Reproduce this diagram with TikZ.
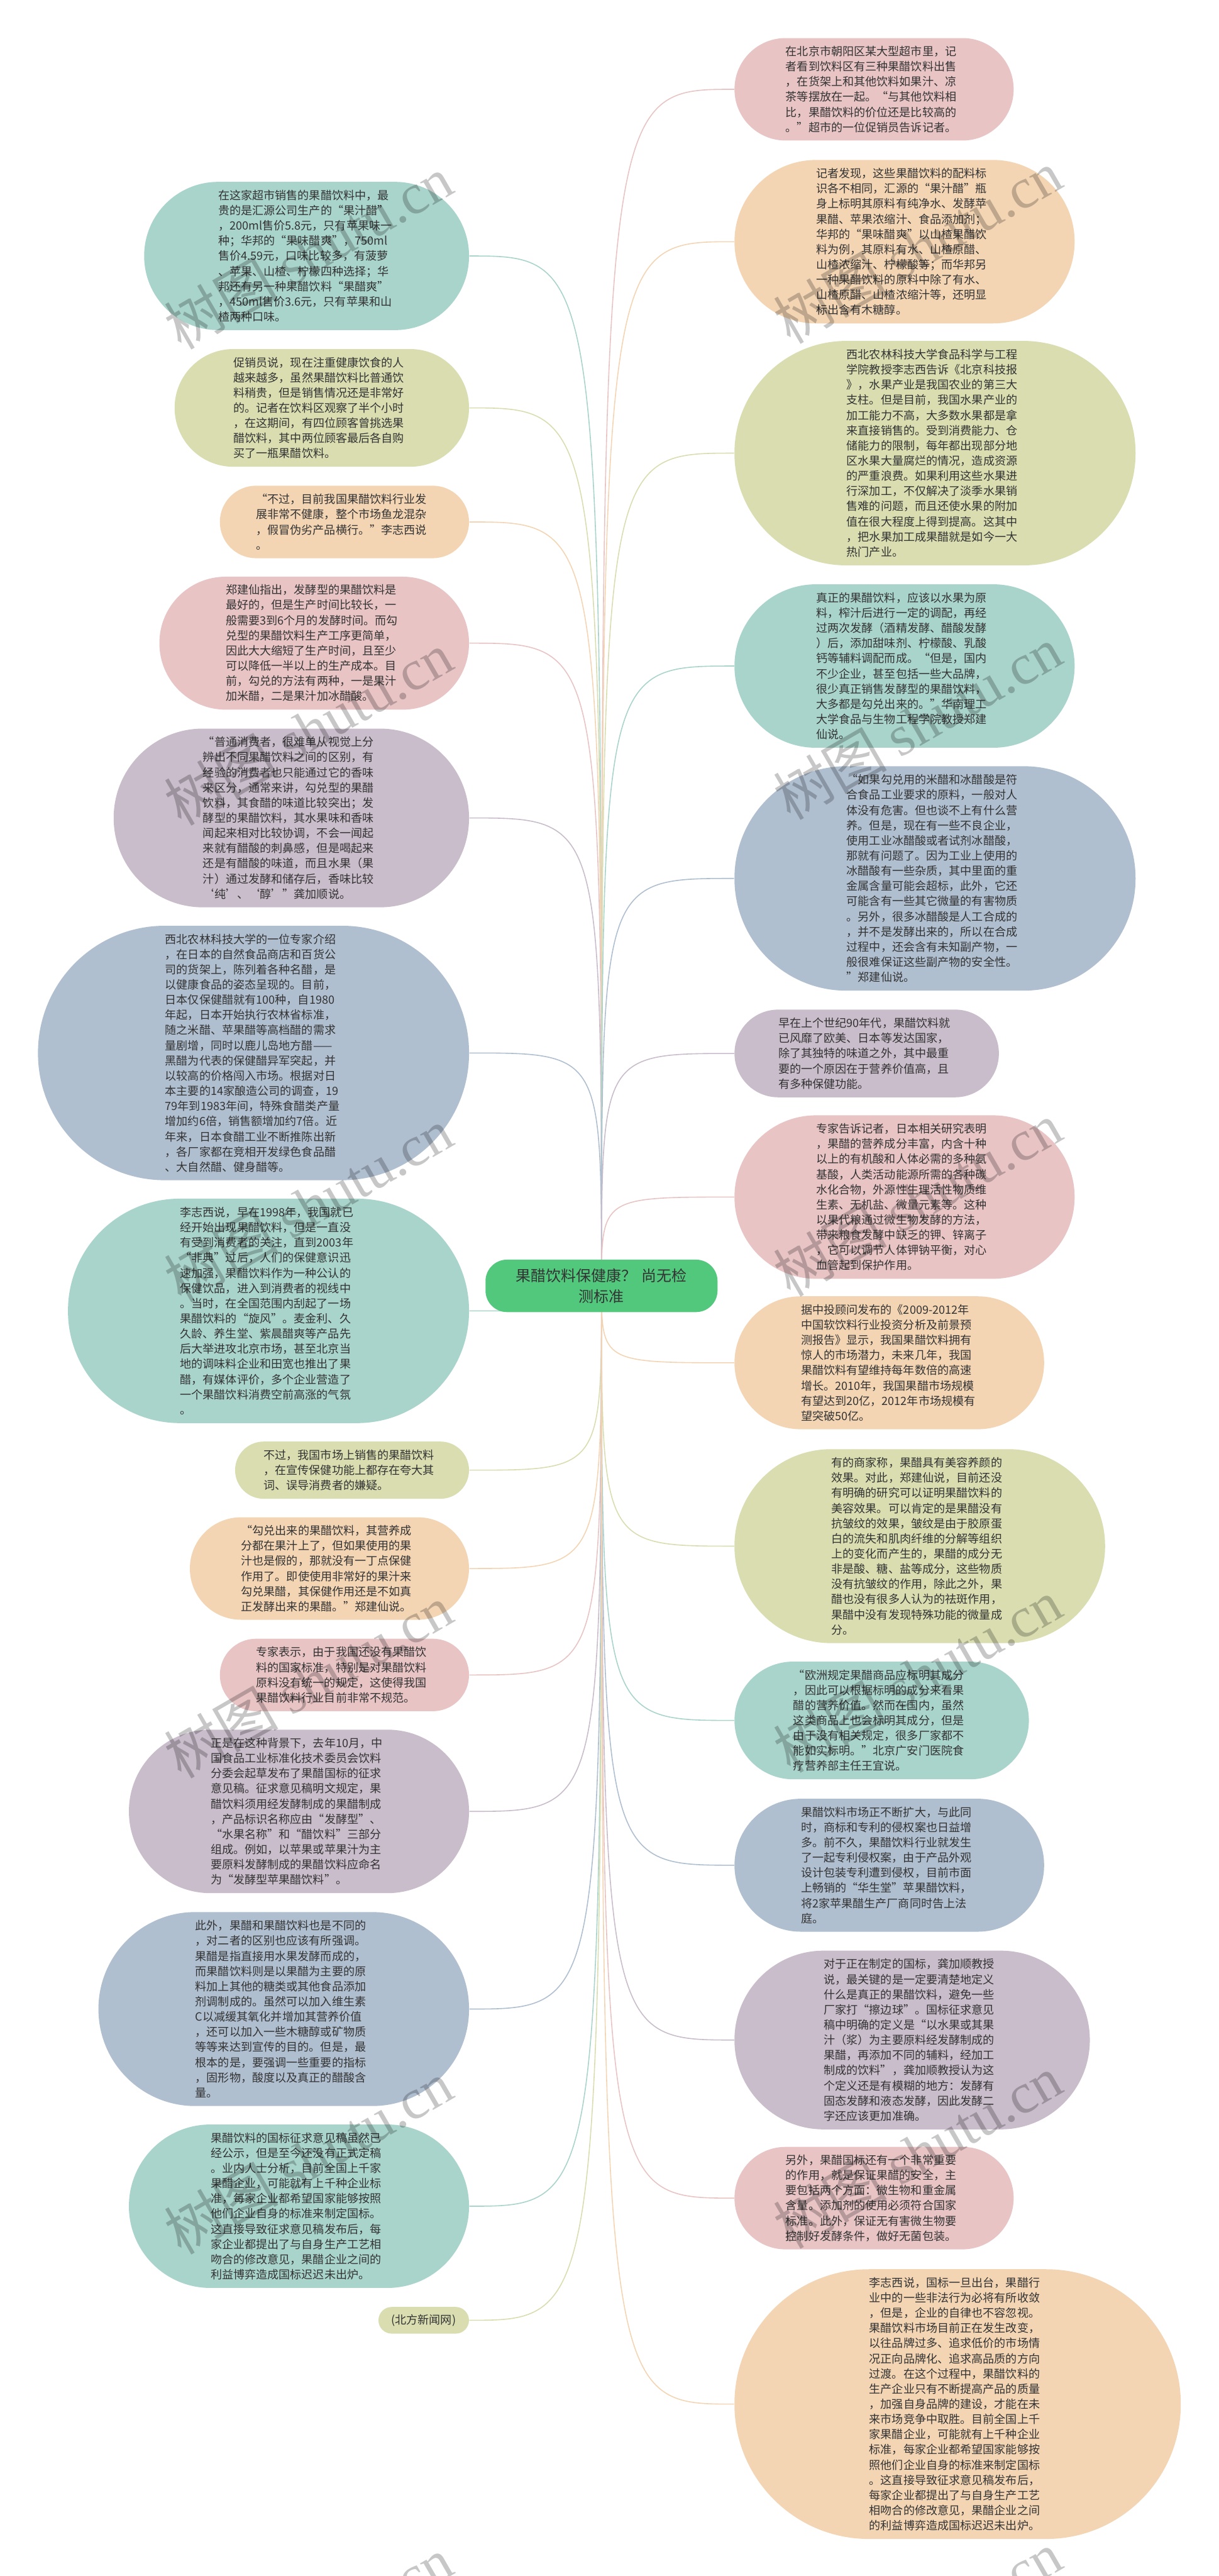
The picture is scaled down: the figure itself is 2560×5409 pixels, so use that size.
\documentclass[tikz,border=0pt]{standalone}
\usepackage{fontspec}
\newfontfamily\cjk{Noto Sans CJK SC}
\newfontfamily\wmlatin{Liberation Serif}
\usetikzlibrary{backgrounds}
\definecolor{cteal}{HTML}{A9D4CB}
\definecolor{colive}{HTML}{D9DDB0}
\definecolor{cpeach}{HTML}{F3D5B4}
\definecolor{cpink}{HTML}{E9C4C5}
\definecolor{cplum}{HTML}{C9BCCB}
\definecolor{csteel}{HTML}{B0BFD0}
\definecolor{chub}{HTML}{52C87D}
\definecolor{ctext}{HTML}{333333}

\begin{document}
\begin{tikzpicture}[x=0.01cm, y=-0.01cm,
		bubble/.style args={#1/#2/#3}{fill=#1, minimum width=#2cm, minimum height=#3cm, rounded corners=0.499*#3cm, inner sep=0pt, text width=3.71cm, align=left, text=ctext, font=\cjk\fontsize{6.8pt}{9.07pt}\selectfont},
		link/.style={draw=#1, line width=0.6pt},
		stamp/.style={font=\cjk\fontsize{34pt}{34pt}\selectfont, text=black, text opacity=0.22, rotate=30, inner sep=0pt}]
	\useasboundingbox (0,0) rectangle (2560,5409);

	\node[fill=chub, minimum width=4.87cm, minimum height=1.10cm, rounded corners=0.45cm, inner sep=0pt, text width=3.8cm, align=center, text=ctext, font=\cjk\fontsize{9pt}{12.2pt}\selectfont] (hub) at (1263.5,2700) {果醋饮料保健康？ 尚无检\\测标准};

	% left column
	\node[bubble=cteal/6.82/3.11] (l1) at (644,537.5) {在这家超市销售的果醋饮料中，最\\贵的是汇源公司生产的“果汁醋”\\，200ml售价5.8元，只有苹果味一\\种；华邦的“果味醋爽”，750ml\\售价4.59元，口味比较多，有菠萝\\、苹果、山楂、柠檬四种选择；华\\邦还有另一种果醋饮料“果醋爽”\\，450ml售价3.6元，只有苹果和山\\楂两种口味。};
	\node[bubble=colive/6.18/2.47] (l2) at (676,856.5) {促销员说，现在注重健康饮食的人\\越来越多，虽然果醋饮料比普通饮\\料稍贵，但是销售情况还是非常好\\的。记者在饮料区观察了半个小时\\，在这期间，有四位顾客曾挑选果\\醋饮料，其中两位顾客最后各自购\\买了一瓶果醋饮料。};
	\node[bubble=cpeach/5.23/1.52] (l3) at (723.5,1096) {“不过，目前我国果醋饮料行业发\\展非常不健康，整个市场鱼龙混杂\\，假冒伪劣产品横行。”李志西说\\。};
	\node[bubble=cpink/6.50/2.79] (l4) at (660,1350.5) {郑建仙指出，发酵型的果醋饮料是\\最好的，但是生产时间比较长，一\\般需要3到6个月的发酵时间。而勾\\兑型的果醋饮料生产工序更简单，\\因此大大缩短了生产时间，且至少\\可以降低一半以上的生产成本。目\\前，勾兑的方法有两种，一是果汁\\加米醋，二是果汁加冰醋酸。};
	\node[bubble=cplum/7.46/3.75] (l5) at (612,1717.5) {“普通消费者，很难单从视觉上分\\辨出不同果醋饮料之间的区别，有\\经验的消费者也只能通过它的香味\\来区分，通常来讲，勾兑型的果醋\\饮料，其食醋的味道比较突出；发\\酵型的果醋饮料，其水果味和香味\\闻起来相对比较协调，不会一闻起\\来就有醋酸的刺鼻感，但是喝起来\\还是有醋酸的味道，而且水果（果\\汁）通过发酵和储存后，香味比较\\‘纯’、‘醇’”龚加顺说。};
	\node[bubble=csteel/9.05/5.34] (l6) at (532.5,2211) {西北农林科技大学的一位专家介绍\\，在日本的自然食品商店和百货公\\司的货架上，陈列着各种名醋，是\\以健康食品的姿态呈现的。目前，\\日本仅保健醋就有100种，自1980\\年起，日本开始执行农林省标准，\\随之米醋、苹果醋等高档醋的需求\\量剧增，同时以鹿儿岛地方醋——\\黑醋为代表的保健醋异军突起，并\\以较高的价格闯入市场。根据对日\\本主要的14家酿造公司的调查，19\\79年到1983年间，特殊食醋类产量\\增加约6倍，销售额增加约7倍。近\\年来，日本食醋工业不断推陈出新\\，各厂家都在竞相开发绿色食品醋\\、大自然醋、健身醋等。};
	\node[bubble=cteal/8.42/4.71] (l7) at (564,2752.5) {李志西说，早在1998年，我国就已\\经开始出现果醋饮料，但是一直没\\有受到消费者的关注，直到2003年\\“非典”过后，人们的保健意识迅\\速加强，果醋饮料作为一种公认的\\保健饮品，进入到消费者的视线中\\。当时，在全国范围内刮起了一场\\果醋饮料的“旋风”。麦金利、久\\久龄、养生堂、紫晨醋爽等产品先\\后大举进攻北京市场，甚至北京当\\地的调味料企业和田宽也推出了果\\醋，有媒体评价，多个企业营造了\\一个果醋饮料消费空前高涨的气氛\\。};
	\node[bubble=colive/4.91/1.20] (l8) at (739.5,3087) {不过，我国市场上销售的果醋饮料\\，在宣传保健功能上都存在夸大其\\词、误导消费者的嫌疑。};
	\node[bubble=cpeach/5.86/2.15] (l9) at (692,3293.5) {“勾兑出来的果醋饮料，其营养成\\分都在果汁上了，但如果使用的果\\汁也是假的，那就没有一丁点保健\\作用了。即使使用非常好的果汁来\\勾兑果醋，其保健作用还是不如真\\正发酵出来的果醋。”郑建仙说。};
	\node[bubble=cpink/5.23/1.52] (l10) at (723.5,3517) {专家表示，由于我国还没有果醋饮\\料的国家标准，特别是对果醋饮料\\原料没有统一的规定，这使得我国\\果醋饮料行业目前非常不规范。};
	\node[bubble=cplum/7.14/3.43] (l11) at (628,3803.5) {正是在这种背景下，去年10月，中\\国食品工业标准化技术委员会饮料\\分委会起草发布了果醋国标的征求\\意见稿。征求意见稿明文规定，果\\醋饮料须用经发酵制成的果醋制成\\，产品标识名称应由“发酵型”、\\“水果名称”和“醋饮料”三部分\\组成。例如，以苹果或苹果汁为主\\要原料发酵制成的果醋饮料应命名\\为“发酵型苹果醋饮料”。};
	\node[bubble=csteel/7.78/4.07] (l12) at (596,4218.5) {此外，果醋和果醋饮料也是不同的\\，对二者的区别也应该有所强调。\\果醋是指直接用水果发酵而成的，\\而果醋饮料则是以果醋为主要的原\\料加上其他的糖类或其他食品添加\\剂调制成的。虽然可以加入维生素\\C以减缓其氧化并增加其营养价值\\，还可以加入一些木糖醇或矿物质\\等等来达到宣传的目的。但是，最\\根本的是，要强调一些重要的指标\\，固形物，酸度以及真正的醋酸含\\量。};
	\node[bubble=cteal/7.14/3.43] (l13) at (628,4632.5) {果醋饮料的国标征求意见稿虽然已\\经公示，但是至今还没有正式定稿\\。业内人士分析，目前全国上千家\\果醋企业，可能就有上千种企业标\\准，每家企业都希望国家能够按照\\他们企业自身的标准来制定国标。\\这直接导致征求意见稿发布后，每\\家企业都提出了与自身生产工艺相\\吻合的修改意见，果醋企业之间的\\利益博弈造成国标迟迟未出炉。};
	\node[bubble=colive/1.90/0.56, text width=1.36cm] (l14) at (890,4872) {(北方新闻网)};

	% right column
	\node[bubble=cpink/5.86/2.15] (r1) at (1836,187.5) {在北京市朝阳区某大型超市里，记\\者看到饮料区有三种果醋饮料出售\\，在货架上和其他饮料如果汁、凉\\茶等摆放在一起。“与其他饮料相\\比，果醋饮料的价位还是比较高的\\。”超市的一位促销员告诉记者。};
	\node[bubble=cpeach/7.14/3.43] (r2) at (1900,507.5) {记者发现，这些果醋饮料的配料标\\识各不相同，汇源的“果汁醋”瓶\\身上标明其原料有纯净水、发酵苹\\果醋、苹果浓缩汁、食品添加剂；\\华邦的“果味醋爽”以山楂果醋饮\\料为例，其原料有水、山楂原醋、\\山楂浓缩汁、柠檬酸等；而华邦另\\一种果醋饮料的原料中除了有水、\\山楂原醋、山楂浓缩汁等，还明显\\标出含有木糖醇。};
	\node[bubble=colive/8.42/4.71] (r3) at (1964,951.5) {西北农林科技大学食品科学与工程\\学院教授李志西告诉《北京科技报\\》，水果产业是我国农业的第三大\\支柱。但是目前，我国水果产业的\\加工能力不高，大多数水果都是拿\\来直接销售的。受到消费能力、仓\\储能力的限制，每年都出现部分地\\区水果大量腐烂的情况，造成资源\\的严重浪费。如果利用这些水果进\\行深加工，不仅解决了淡季水果销\\售难的问题，而且还使水果的附加\\值在很大程度上得到提高。这其中\\，把水果加工成果醋就是如今一大\\热门产业。};
	\node[bubble=cteal/7.14/3.43] (r4) at (1900,1398.5) {真正的果醋饮料，应该以水果为原\\料，榨汁后进行一定的调配，再经\\过两次发酵（酒精发酵、醋酸发酵\\）后，添加甜味剂、柠檬酸、乳酸\\钙等辅料调配而成。“但是，国内\\不少企业，甚至包括一些大品牌，\\很少真正销售发酵型的果醋饮料，\\大多都是勾兑出来的。”华南理工\\大学食品与生物工程学院教授郑建\\仙说。};
	\node[bubble=csteel/8.42/4.71] (r5) at (1964,1844.5) {“如果勾兑用的米醋和冰醋酸是符\\合食品工业要求的原料，一般对人\\体没有危害。但也谈不上有什么营\\养。但是，现在有一些不良企业，\\使用工业冰醋酸或者试剂冰醋酸，\\那就有问题了。因为工业上使用的\\冰醋酸有一些杂质，其中里面的重\\金属含量可能会超标，此外，它还\\可能含有一些其它微量的有害物质\\。另外，很多冰醋酸是人工合成的\\，并不是发酵出来的，所以在合成\\过程中，还会含有未知副产物，一\\般很难保证这些副产物的安全性。\\”郑建仙说。};
	\node[bubble=cplum/5.55/1.84] (r6) at (1820.5,2212) {早在上个世纪90年代，果醋饮料就\\已风靡了欧美、日本等发达国家，\\除了其独特的味道之外，其中最重\\要的一个原因在于营养价值高，且\\有多种保健功能。};
	\node[bubble=cpink/7.14/3.43] (r7) at (1900,2513.5) {专家告诉记者，日本相关研究表明\\，果醋的营养成分丰富，内含十种\\以上的有机酸和人体必需的多种氨\\基酸，人类活动能源所需的各种碳\\水化合物，外源性生理活性物质维\\生素、无机盐、微量元素等。这种\\以果代粮通过微生物发酵的方法，\\带来粮食发酵中缺乏的钾、锌离子\\，它可以调节人体钾钠平衡，对心\\血管起到保护作用。};
	\node[bubble=cpeach/6.50/2.79] (r8) at (1868,2861.5) {据中投顾问发布的《2009-2012年\\中国软饮料行业投资分析及前景预\\测报告》显示，我国果醋饮料拥有\\惊人的市场潜力，未来几年，我国\\果醋饮料有望维持每年数倍的高速\\增长。2010年，我国果醋市场规模\\有望达到20亿，2012年市场规模有\\望突破50亿。};
	\node[bubble=colive/7.78/4.07] (r9) at (1932,3246.5) {有的商家称，果醋具有美容养颜的\\效果。对此，郑建仙说，目前还没\\有明确的研究可以证明果醋饮料的\\美容效果。可以肯定的是果醋没有\\抗皱纹的效果，皱纹是由于胶原蛋\\白的流失和肌肉纤维的分解等组织\\上的变化而产生的，果醋的成分无\\非是酸、糖、盐等成分，这些物质\\没有抗皱纹的作用，除此之外，果\\醋也没有很多人认为的祛斑作用，\\果醋中没有发现特殊功能的微量成\\分。};
	\node[bubble=cteal/6.18/2.47] (r10) at (1852,3612.5) {“欧洲规定果醋商品应标明其成分\\，因此可以根据标明的成分来看果\\醋的营养价值。然而在国内，虽然\\这类商品上也会标明其成分，但是\\由于没有相关规定，很多厂家都不\\能如实标明。”北京广安门医院食\\疗营养部主任王宜说。};
	\node[bubble=csteel/6.50/2.79] (r11) at (1868,3916.5) {果醋饮料市场正不断扩大，与此同\\时，商标和专利的侵权案也日益增\\多。前不久，果醋饮料行业就发生\\了一起专利侵权案，由于产品外观\\设计包装专利遭到侵权，目前市面\\上畅销的“华生堂”苹果醋饮料，\\将2家苹果醋生产厂商同时告上法\\庭。};
	\node[bubble=cplum/7.46/3.75] (r12) at (1916,4283.5) {对于正在制定的国标，龚加顺教授\\说，最关键的是一定要清楚地定义\\什么是真正的果醋饮料，避免一些\\厂家打“擦边球”。国标征求意见\\稿中明确的定义是“以水果或其果\\汁（浆）为主要原料经发酵制成的\\果醋，再添加不同的辅料，经加工\\制成的饮料”，龚加顺教授认为这\\个定义还是有模糊的地方：发酵有\\固态发酵和液态发酵，因此发酵二\\字还应该更加准确。};
	\node[bubble=cpink/5.86/2.15] (r13) at (1836,4615.5) {另外，果醋国标还有一个非常重要\\的作用，就是保证果醋的安全，主\\要包括两个方面：微生物和重金属\\含量。添加剂的使用必须符合国家\\标准。此外，保证无有害微生物要\\控制好发酵条件，做好无菌包装。};
	\node[bubble=cpeach/9.37/5.66] (r14) at (2011.5,5048) {李志西说，国标一旦出台，果醋行\\业中的一些非法行为必将有所收敛\\，但是，企业的自律也不容忽视。\\果醋饮料市场目前正在发生改变，\\以往品牌过多、追求低价的市场情\\况正向品牌化、追求高品质的方向\\过渡。在这个过程中，果醋饮料的\\生产企业只有不断提高产品的质量\\，加强自身品牌的建设，才能在未\\来市场竞争中取胜。目前全国上千\\家果醋企业，可能就有上千种企业\\标准，每家企业都希望国家能够按\\照他们企业自身的标准来制定国标\\。这直接导致征求意见稿发布后，\\每家企业都提出了与自身生产工艺\\相吻合的修改意见，果醋企业之间\\的利益博弈造成国标迟迟未出炉。};

	% watermark
	\begin{scope}
		\clip (0,0) rectangle (2560,5409);
		\foreach \k in {0,...,5} {
			\node[stamp] (wl\k) at (648,530+1000*\k) {树图 {\wmlatin shutu.cn}};
			\node[stamp] (wr\k) at (1927,518+1000*\k) {树图 {\wmlatin shutu.cn}};
		}
	\end{scope}

	\begin{pgfonlayer}{background}
		\fill[white] (0,0) rectangle (2560,5409);
		\foreach \n/\c in {l1/cteal, l2/colive, l3/cpeach, l4/cpink, l5/cplum, l6/csteel, l7/cteal, l8/colive, l9/cpeach, l10/cpink, l11/cplum, l12/csteel, l13/cteal, l14/colive}
			\draw[link=\c] (hub.center) .. controls (hub.center |- \n.east) .. (\n.east);
		\foreach \n/\c in {r1/cpink, r2/cpeach, r3/colive, r4/cteal, r5/csteel, r6/cplum, r7/cpink, r8/cpeach, r9/colive, r10/cteal, r11/csteel, r12/cplum, r13/cpink, r14/cpeach}
			\draw[link=\c] (hub.center) .. controls (hub.center |- \n.west) .. (\n.west);
	\end{pgfonlayer}
\end{tikzpicture}
\end{document}
